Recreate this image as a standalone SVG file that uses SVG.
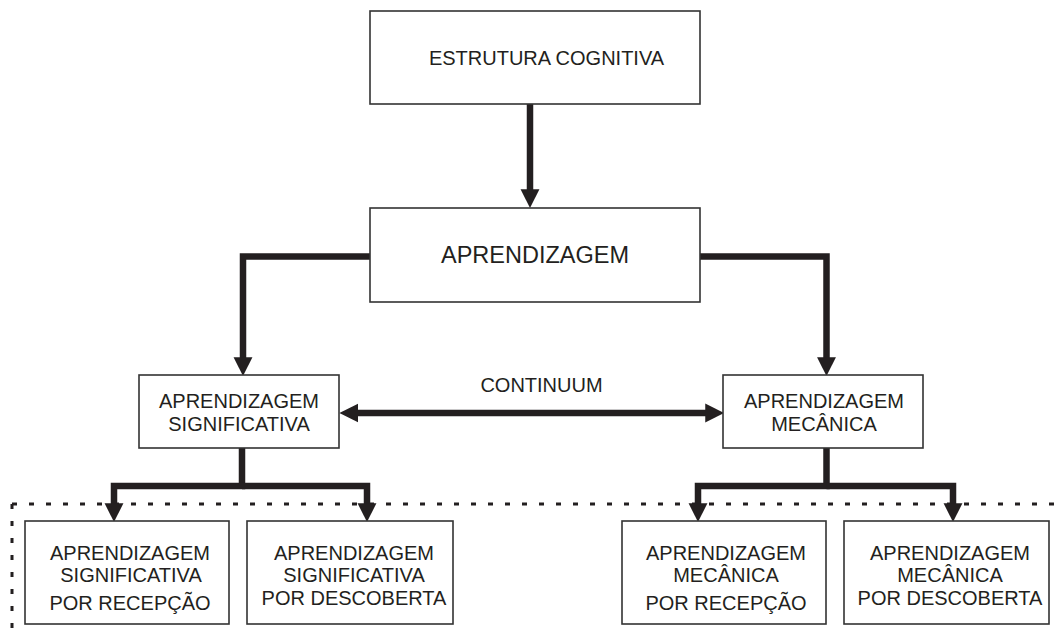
<svg xmlns="http://www.w3.org/2000/svg" width="1063" height="639" viewBox="0 0 1063 639">
<style>
.box{fill:#fff;stroke:#333;stroke-width:1.6}
.t{font-family:"Liberation Sans",Arial,sans-serif;font-size:20px;fill:#231f20;text-anchor:middle}
.big{font-size:23.5px}
.c{fill:none;stroke:#231f20;stroke-width:6.5;stroke-linejoin:miter}
.dot{fill:none;stroke:#231f20;stroke-width:3;stroke-dasharray:5 12}
</style>
<defs>
<marker id="ah" markerUnits="userSpaceOnUse" markerWidth="20" markerHeight="20" viewBox="0 -9 18 18" refX="7" refY="0" orient="auto-start-reverse">
<path d="M0,-8.5 L17,0 L0,8.5 z" fill="#231f20"/>
</marker>
</defs>
<rect width="1063" height="639" fill="#fff"/>
<g id="dotted">
<path class="dot" d="M12,504 H1063"/>
<path class="dot" d="M12,504 V634"/>
</g>
<g id="connectors">
<path class="c" d="M530,104 V197" marker-end="url(#ah)"/>
<path class="c" d="M370,256.5 H243 V365" marker-end="url(#ah)"/>
<path class="c" d="M700,256.5 H826.5 V365" marker-end="url(#ah)"/>
<path class="c" d="M350.5,413 H713" marker-start="url(#ah)" marker-end="url(#ah)"/>
<path class="c" d="M242,448 V486 H114 V511" marker-end="url(#ah)"/>
<path class="c" d="M242,486 H367 V511" marker-end="url(#ah)"/>
<path class="c" d="M826.5,448 V486 H698 V511" marker-end="url(#ah)"/>
<path class="c" d="M826.5,486 H953 V511" marker-end="url(#ah)"/>
</g>
<g id="n-estrutura">
<rect class="box" x="370" y="11" width="330" height="93"/>
<text class="t" x="546.5" y="65">ESTRUTURA COGNITIVA</text>
</g>
<g id="n-aprendizagem">
<rect class="box" x="370" y="208" width="330" height="94"/>
<text class="t big" x="535" y="263">APRENDIZAGEM</text>
</g>
<g id="n-continuum">
<text class="t" x="541.5" y="392">CONTINUUM</text>
</g>
<g id="n-significativa">
<rect class="box" x="139" y="375" width="200" height="73"/>
<text class="t" x="239" y="408">APRENDIZAGEM</text>
<text class="t" x="239" y="431">SIGNIFICATIVA</text>
</g>
<g id="n-mecanica">
<rect class="box" x="723" y="375" width="200" height="73"/>
<text class="t" x="824" y="408">APRENDIZAGEM</text>
<text class="t" x="824" y="431">MECÂNICA</text>
</g>
<g id="n-sig-recepcao">
<rect class="box" x="25" y="521" width="204" height="103"/>
<text class="t" x="130" y="560">APRENDIZAGEM</text>
<text class="t" x="131" y="582">SIGNIFICATIVA</text>
<text class="t" x="130" y="610">POR RECEPÇÃO</text>
</g>
<g id="n-sig-descoberta">
<rect class="box" x="247" y="521" width="206" height="103"/>
<text class="t" x="354" y="560">APRENDIZAGEM</text>
<text class="t" x="354" y="582">SIGNIFICATIVA</text>
<text class="t" x="354" y="605">POR DESCOBERTA</text>
</g>
<g id="n-mec-recepcao">
<rect class="box" x="622" y="521" width="204" height="103"/>
<text class="t" x="726" y="560">APRENDIZAGEM</text>
<text class="t" x="726" y="582">MECÂNICA</text>
<text class="t" x="726" y="610">POR RECEPÇÃO</text>
</g>
<g id="n-mec-descoberta">
<rect class="box" x="844" y="521" width="205" height="103"/>
<text class="t" x="950" y="560">APRENDIZAGEM</text>
<text class="t" x="950" y="582">MECÂNICA</text>
<text class="t" x="950" y="605">POR DESCOBERTA</text>
</g>
</svg>
